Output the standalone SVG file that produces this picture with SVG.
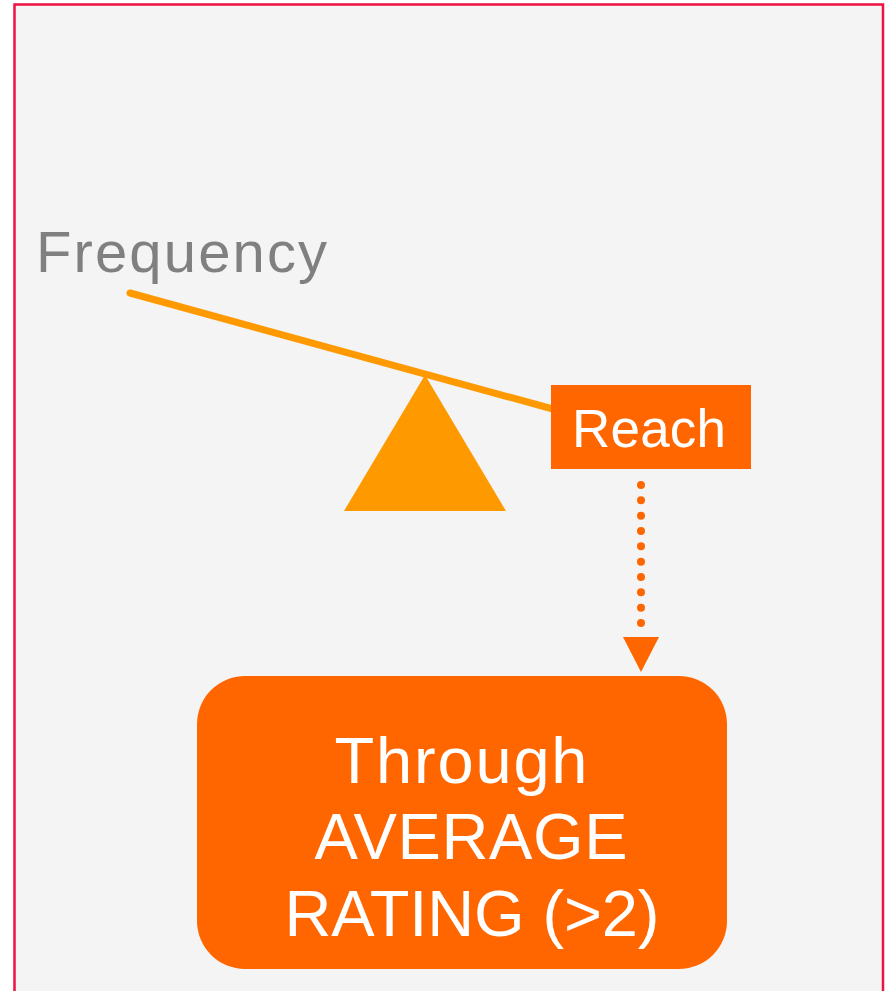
<svg xmlns="http://www.w3.org/2000/svg" width="885" height="991" viewBox="0 0 885 991">
  <style>
    .lbl { font-family: "Liberation Sans", Arial, sans-serif; }
    .white { fill: #ffffff; }
  </style>

  <rect width="885" height="991" fill="#ffffff"/>
  <!-- panel -->
  <g id="panel">
    <rect x="14.5" y="4.5" width="868.5" height="1000" fill="#f4f4f4" stroke="#ee1144" stroke-width="2.5"/>
  </g>

  <!-- seesaw -->
  <g id="seesaw">
    <polygon points="425,375 344,511 506,511" fill="#ff9900"/>
    <line x1="130" y1="293" x2="560" y2="411" stroke="#ff9900" stroke-width="7" stroke-linecap="round"/>
  </g>

  <g id="frequency">
    <text class="lbl" x="36" y="272" font-size="58" textLength="291" lengthAdjust="spacing" fill="#808080">Frequency</text>
  </g>

  <g id="reach">
    <rect x="551" y="385" width="200" height="84" fill="#ff6600"/>
    <text class="lbl white" x="649" y="447" font-size="53" text-anchor="middle" textLength="154" lengthAdjust="spacing">Reach</text>
  </g>

  <!-- connectors -->
  <g id="connectors">
    <line x1="641" y1="485" x2="641" y2="623" stroke="#ff6600" stroke-width="8" stroke-linecap="round" stroke-dasharray="0 15.33"/>
    <polygon points="623,637 659,637 641,672" fill="#ff6600"/>
  </g>

  <g id="result">
    <rect x="197" y="676" width="530" height="293" rx="48" ry="48" fill="#ff6600"/>
    <text class="lbl white" font-size="65" text-anchor="middle">
      <tspan x="461" y="783" textLength="253" lengthAdjust="spacing">Through</tspan>
    </text>
    <text class="lbl white" font-size="65" text-anchor="middle">
      <tspan x="471" y="859" textLength="313" lengthAdjust="spacing">AVERAGE</tspan>
    </text>
    <text class="lbl white" font-size="65" text-anchor="middle">
      <tspan x="472" y="936" textLength="375" lengthAdjust="spacing">RATING (&gt;2)</tspan>
    </text>
  </g>
</svg>
